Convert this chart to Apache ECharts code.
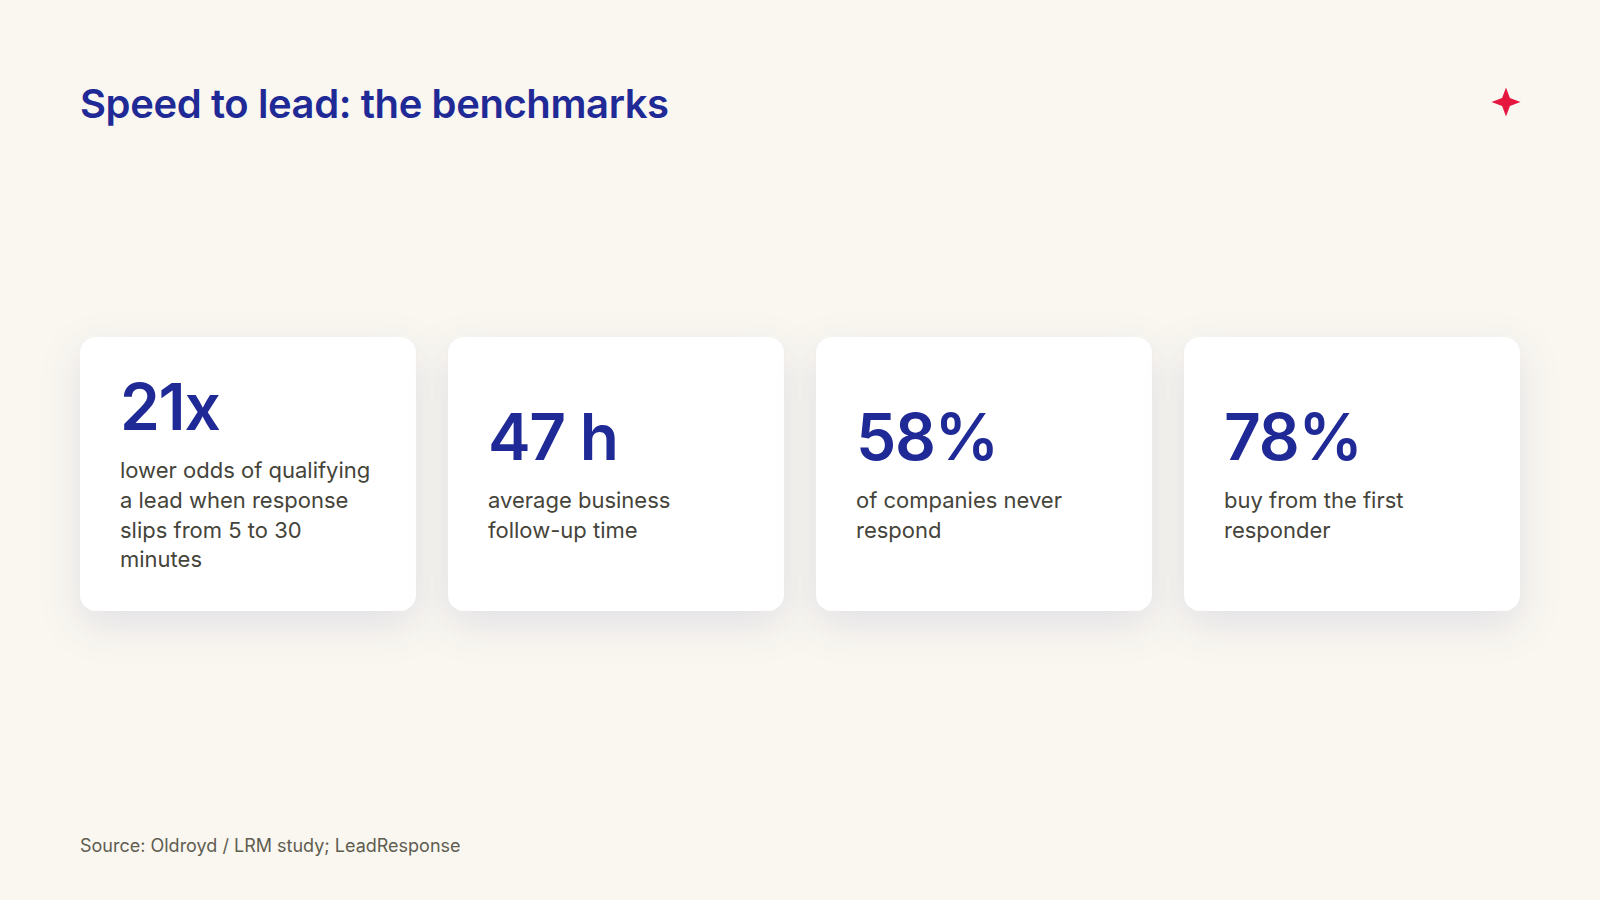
<!DOCTYPE html>
<html>
<head>
    <meta charset="utf-8">
    <title>Speed to lead</title>
    <script src="https://cdn.jsdelivr.net/npm/echarts@6/dist/echarts.min.js"></script>
    <style>
        html,body{margin:0;padding:0;background:#faf7f0;}
        /* zrender has no letter spacing option, svg text takes it from css */
        text[style*="40px"]{letter-spacing:-0.4px;}
        text[style*="64px"]{letter-spacing:-1.28px;}
        filter, feDropShadow{color-interpolation-filters:sRGB;}
    </style>
</head>
<body>
    <div id="main" style="width:1600px;height:900px;"></div>
    <script type="text/javascript">
        var titleText = 'Speed to lead: the benchmarks';
        var sourceText = 'Source: Oldroyd / LRM study; LeadResponse';
        var bigValues = ['21x', '47 h', '58%', '78%'];
        var captions = [
            'lower odds of qualifying\na lead when response\nslips from 5 to 30\nminutes',
            'average business\nfollow-up time',
            'of companies never\nrespond',
            'buy from the first\nresponder'
        ];

        var myChart = echarts.init(document.getElementById('main'), null, { renderer: 'svg' });
        var font = 'Inter';
        var cardW = 336, cardH = 274, cardTop = 337, lineH = 29.7;
        var cardLefts = [80, 448, 816, 1184];

        var elements = [];
        elements.push({
            type: 'text', x: 80, y: 83.5,
            style: { text: titleText, font: '600 40px ' + font, fill: '#1f2a96' }
        });
        elements.push({
            type: 'text', x: 80, y: 836,
            style: { text: sourceText, font: '400 18px ' + font, fill: '#5f5d50' }
        });
        // four point star top right
        var starPts = [];
        for (var k = 0; k < 8; k++) {
            var r = k % 2 === 0 ? 14.5 : 5.5;
            var a = k * Math.PI / 4;
            starPts.push([1506 + r * Math.sin(a), 102 - r * Math.cos(a)]);
        }
        elements.push({
            type: 'polygon',
            shape: { points: starPts },
            style: { fill: '#e5173f' }
        });
        bigValues.forEach(function (v, i) {
            var x = cardLefts[i];
            var lines = captions[i].split('\n').length;
            var y = lines === 4 ? 366 : 396;
            elements.push({
                type: 'rect',
                shape: { x: x, y: cardTop, width: cardW, height: cardH, r: 16 },
                style: { fill: '#ffffff', shadowBlur: 40, shadowOffsetY: 14, shadowColor: 'rgba(31,42,150,0.11)' }
            });
            elements.push({
                type: 'text', x: x + 40, y: y + 8.5,
                style: { text: v, font: '600 64px ' + font, fill: '#1f2a96' }
            });
            elements.push({
                type: 'text', x: x + 40, y: y + 89.4,
                style: { text: captions[i], font: '400 22px ' + font, fill: '#45443a', lineHeight: lineH }
            });
        });

        var option = {
            backgroundColor: '#faf7f0',
            animation: false,
            graphic: { elements: elements }
        };
        myChart.setOption(option);
    </script>
</body>
</html>
